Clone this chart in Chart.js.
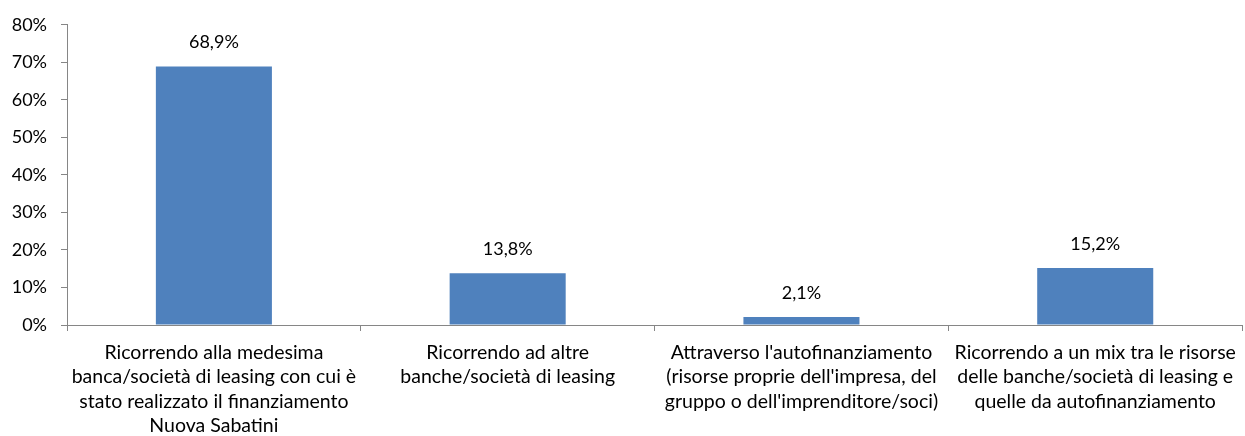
<!DOCTYPE html>
<html>
<head>
<meta charset="utf-8">
<script src="https://cdn.jsdelivr.net/npm/chart.js@4"></script>
<style>
  html, body { margin: 0; padding: 0; background: #fff; }
  #wrap { width: 1245px; height: 436px; }
</style>
</head>
<body>
<div id="wrap"><canvas id="chart" width="1245" height="436"></canvas></div>
<script>
// chart data
var categories = [
  ['Ricorrendo alla medesima', 'banca/società di leasing con cui è', 'stato realizzato il finanziamento', 'Nuova Sabatini'],
  ['Ricorrendo ad altre', 'banche/società di leasing'],
  ["Attraverso l'autofinanziamento", "(risorse proprie dell'impresa, del", "gruppo o dell'imprenditore/soci)"],
  ['Ricorrendo a un mix tra le risorse', 'delle banche/società di leasing e', 'quelle da autofinanziamento']
];
var values = [68.9, 13.8, 2.1, 15.2];
var yTicks = [0, 10, 20, 30, 40, 50, 60, 70, 80];

var fontFamily = 'Lato, "Open Sans", sans-serif';
var axisColor = '#868686';

// draw the value above each bar
var valueLabels = {
  id: 'valueLabels',
  afterDatasetsDraw: function(chart) {
    var ctx = chart.ctx;
    var meta = chart.getDatasetMeta(0);
    ctx.save();
    ctx.font = '18px ' + fontFamily;
    ctx.fillStyle = '#000';
    ctx.textAlign = 'center';
    ctx.textBaseline = 'middle';
    meta.data.forEach(function(bar, i) {
      ctx.fillText(values[i].toFixed(1).replace('.', ',') + '%', bar.x, bar.y - 24);
    });
    ctx.restore();
  }
};

var ctx = document.getElementById('chart').getContext('2d');
new Chart(ctx, {
  type: 'bar',
  data: {
    labels: categories,
    datasets: [{
      data: values,
      backgroundColor: '#4F81BD',
      borderWidth: 0,
      barPercentage: 0.395,
      categoryPercentage: 1
    }]
  },
  options: {
    responsive: false,
    animation: false,
    layout: { padding: { top: 24, right: 1, left: 0, bottom: 0 } },
    plugins: {
      legend: { display: false },
      tooltip: { enabled: false }
    },
    scales: {
      x: {
        afterFit: function(scale) { scale.height = 111; },
        grid: {
          offset: true,
          drawOnChartArea: false,
          drawTicks: true,
          tickLength: 6,
          color: axisColor
        },
        border: { color: axisColor, width: 1 },
        ticks: {
          color: '#000',
          padding: 9,
          maxRotation: 0,
          autoSkip: false,
          font: { family: fontFamily, size: 19.5, lineHeight: 1.26 }
        }
      },
      y: {
        min: 0,
        max: 80,
        afterFit: function(scale) { scale.width = 67; },
        afterBuildTicks: function(scale) {
          scale.ticks = yTicks.map(function(v) { return { value: v }; });
        },
        grid: {
          drawOnChartArea: false,
          drawTicks: true,
          tickLength: 6,
          color: axisColor
        },
        border: { color: axisColor, width: 1 },
        ticks: {
          color: '#000',
          padding: 14,
          font: { family: fontFamily, size: 18 },
          callback: function(v) { return v + '%'; }
        }
      }
    }
  },
  plugins: [valueLabels]
});
</script>
</body>
</html>
